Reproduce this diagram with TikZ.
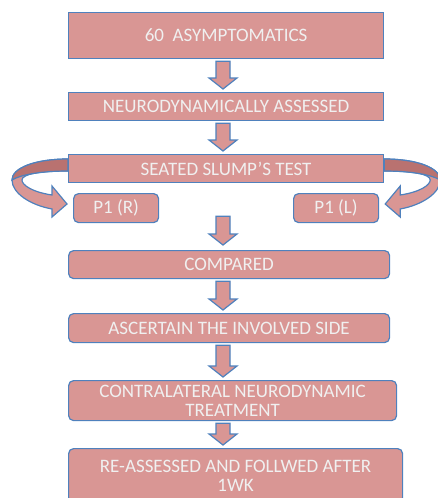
\documentclass[tikz,border=0pt]{standalone}
\usepackage{fontspec}
\setmainfont{Carlito}
\usepackage{tikz}
\usetikzlibrary{positioning, calc}

\definecolor{boxfill}{HTML}{D99694}
\definecolor{boxline}{HTML}{4F81BD}
\definecolor{boxdark}{HTML}{B97270}

% block arrow pointing down, from #1 to #2
\newcommand{\stepdown}[2]{%
  \path[blockarr] let \p1=#1, \p2=#2, \p3=(spine) in
    (\x3-7pt,\y1-2pt) -- (\x3+7pt,\y1-2pt) -- (\x3+7pt,\y2+14pt)
    -- (\x3+14pt,\y2+14pt) -- (\x3,\y2+3pt) -- (\x3-14pt,\y2+14pt)
    -- (\x3-7pt,\y2+14pt) -- cycle;}

\begin{document}
\begin{tikzpicture}[
    x=1pt, y=-1pt,
    font=\fontsize{19}{19.5}\selectfont,
    box/.style={
        draw=boxline, fill=boxfill, line width=1.2pt, text=white!94!black,
        anchor=north west, align=center, inner sep=0pt,
    },
    rbox/.style={box, rounded corners=5pt},
    blockarr/.style={draw=boxline, fill=boxfill, line width=1.2pt, line join=miter},
]
\useasboundingbox (0,0) rectangle (437,498);

% --- Main column --------------------------------------------
\node[box, minimum width=315pt, minimum height=46pt] (n1) at (68,12) {60~ ASYMPTOMATICS};
\node[box, minimum width=315pt, minimum height=28pt] (n2) at (68,92) {NEURODYNAMICALLY ASSESSED};
\node[box, minimum width=315pt, minimum height=28pt] (n3) at (68,154) {SEATED SLUMP’S TEST};

% --- Sides --------------------------------------------------
\node[rbox, minimum width=85pt, minimum height=29pt] (p1r) at (73,193) {P1 (R)};
\node[rbox, minimum width=85pt, minimum height=29pt] (p1l) at (293,193) {P1 (L)};

% --- Rest of the column -------------------------------------
\node[rbox, minimum width=321pt, minimum height=28pt] (cmp) at (68,250) {COMPARED};
\node[rbox, minimum width=321pt, minimum height=29pt] (asc) at (68,313) {ASCERTAIN THE INVOLVED SIDE};
\node[rbox, minimum width=328pt, minimum height=40pt] (ctr) at (68,380)
    {CONTRALATERAL NEURODYNAMIC\\TREATMENT};
\node[rbox, minimum width=334pt, minimum height=54pt] (rea) at (68,448)
    {RE-ASSESSED AND FOLLWED AFTER\\1WK};

% --- Arrows -------------------------------------------------
\coordinate (spine) at (223,0);
\stepdown{(n1.south)}{(n2.north)}
\stepdown{(n2.south)}{(n3.north)}
\stepdown{($(p1r.south)+(0,-9)$)}{($(cmp.north)+(0,-2)$)}
\stepdown{(cmp.south)}{(asc.north)}
\stepdown{(asc.south)}{(ctr.north)}
\stepdown{(ctr.south)}{(rea.north)}

% --- Curved arrows into P1 (R) and P1 (L) -------------------
\foreach \corner/\side in {north west/1, north east/-1} {
  \begin{scope}[shift={(n3.\corner)}, xscale=\side]
    \path[blockarr] (0,5) .. controls (-33,5) and (-56,14) .. (-56,26)
      .. controls (-56,39) and (-38,51) .. (-16,55) -- (-16,63) -- (-1,50)
      -- (-16,32) -- (-16,41) .. controls (-36,38) and (-46,31) .. (-46,26)
      .. controls (-46,20) and (-28,17) .. (0,17) -- cycle;
    \path[blockarr, fill=boxdark] (0,5) .. controls (-33,5) and (-56,14) .. (-56,26)
      .. controls (-48,21) and (-28,17) .. (0,17) -- cycle;
  \end{scope}
}
\end{tikzpicture}
\end{document}
